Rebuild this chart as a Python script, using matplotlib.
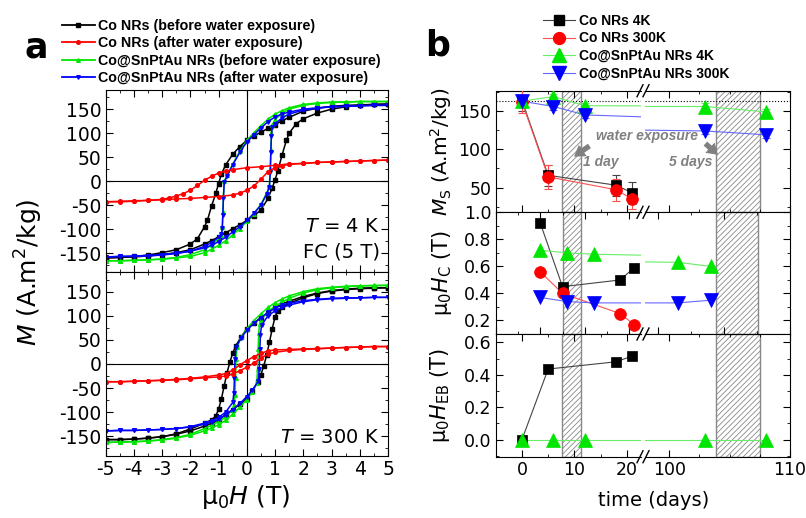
import matplotlib
matplotlib.use("Agg")
import matplotlib.pyplot as plt
import numpy as np
from matplotlib.lines import Line2D
from matplotlib.patches import FancyArrowPatch
from matplotlib.ticker import MultipleLocator

# ---- panel a : hysteresis loops, (H in T, M in A.m2/kg) ----
# 4 K, field cooled
co_before_4k_down = [(5, 160), (4.5, 160), (4, 159), (3.5, 158), (3, 156), (2.5, 152), (2, 146),
                     (1.5, 133), (1.25, 126), (1, 118), (0.75, 110), (0.5, 102), (0.25, 94), (0, 85),
                     (-0.25, 72), (-0.5, 56), (-0.75, 34), (-0.9, 15), (-1, -5), (-1.1, -25),
                     (-1.25, -52), (-1.4, -82), (-1.5, -95), (-1.75, -120), (-2, -131), (-2.5, -143),
                     (-3, -149), (-3.5, -154), (-4, -157), (-4.5, -159), (-5, -160)]
co_before_4k_up = [(-5, -160), (-4.5, -159), (-4, -158), (-3.5, -156), (-3, -153), (-2.5, -149),
                   (-2, -143), (-1.5, -131), (-1.25, -124), (-1, -116), (-0.75, -108), (-0.5, -99),
                   (-0.25, -91), (0, -82), (0.25, -72), (0.5, -60), (0.75, -36), (0.9, -14), (1, 3),
                   (1.1, 22), (1.25, 55), (1.4, 85), (1.5, 100), (1.75, 120), (2, 130), (2.5, 142),
                   (3, 150), (3.5, 155), (4, 158), (4.5, 160), (5, 161)]
co_after_4k_down = [(5, 44), (4.5, 43), (4, 42), (3.5, 41), (3, 40), (2.5, 39), (2, 37), (1.5, 36),
                    (1, 33), (0.5, 30), (0, 28), (-0.5, 24), (-0.75, 21), (-1, 17), (-1.25, 10),
                    (-1.5, 2), (-1.75, -9), (-2, -19), (-2.25, -26), (-2.5, -31), (-2.75, -35),
                    (-3, -38), (-3.5, -40), (-4, -42), (-4.5, -43), (-5, -43)]
co_after_4k_up = [(-5, -43), (-4.5, -42), (-4, -41), (-3.5, -40), (-3, -39), (-2.5, -37), (-2, -36),
                  (-1.5, -34), (-1, -32), (-0.5, -29), (-0.25, -25), (0, -19), (0.25, -10), (0.5, 4),
                  (0.75, 20), (1, 28), (1.25, 32), (1.5, 35), (2, 37), (2.5, 39), (3, 40), (3.5, 41),
                  (4, 42), (4.5, 43), (5, 44)]
cs_before_4k_down = [(5, 166), (4.5, 166), (4, 166), (3.5, 165), (3, 165), (2.5, 163), (2, 160),
                     (1.5, 153), (1.25, 147), (1, 140), (0.75, 129), (0.5, 116), (0.25, 101), (0, 85),
                     (-0.25, 62), (-0.5, 36), (-0.7, 12), (-0.8, 0), (-0.83, -30), (-0.85, -65),
                     (-0.87, -95), (-0.9, -112), (-1, -120), (-1.25, -133), (-1.5, -143), (-2, -153),
                     (-2.5, -159), (-3, -162), (-3.5, -164), (-4, -165), (-4.5, -166), (-5, -166)]
cs_before_4k_up = [(-5, -166), (-4.5, -166), (-4, -165), (-3.5, -164), (-3, -163), (-2.5, -160),
                   (-2, -157), (-1.5, -149), (-1.25, -142), (-1, -134), (-0.75, -124), (-0.5, -112),
                   (-0.25, -99), (0, -84), (0.25, -68), (0.5, -48), (0.7, -25), (0.8, -10), (0.83, 25),
                   (0.85, 65), (0.87, 100), (0.9, 118), (1, 128), (1.25, 142), (1.5, 150), (2, 158),
                   (2.5, 162), (3, 164), (3.5, 165), (4, 166), (4.5, 166), (5, 166)]
cs_after_4k_down = [(5, 158), (4.5, 158), (4, 157), (3.5, 156), (3, 155), (2.5, 153), (2, 150),
                    (1.5, 144), (1.25, 140), (1, 134), (0.75, 124), (0.5, 111), (0.25, 97), (0, 82),
                    (-0.25, 60), (-0.5, 34), (-0.7, 10), (-0.8, -2), (-0.83, -35), (-0.85, -70),
                    (-0.87, -98), (-0.9, -110), (-1, -117), (-1.25, -128), (-1.5, -136), (-2, -146),
                    (-2.5, -151), (-3, -154), (-3.5, -156), (-4, -157), (-4.5, -157), (-5, -158)]
cs_after_4k_up = [(-5, -158), (-4.5, -157), (-4, -156), (-3.5, -155), (-3, -153), (-2.5, -150),
                  (-2, -146), (-1.5, -139), (-1.25, -134), (-1, -126), (-0.75, -117), (-0.5, -106),
                  (-0.25, -95), (0, -82), (0.25, -67), (0.5, -50), (0.7, -27), (0.8, -12), (0.83, 20),
                  (0.85, 60), (0.87, 95), (0.9, 112), (1, 120), (1.25, 132), (1.5, 140), (2, 148),
                  (2.5, 152), (3, 155), (3.5, 156), (4, 157), (4.5, 158), (5, 158)]

# 300 K
co_before_300k_down = [(5, 158), (4.5, 158), (4, 157), (3.5, 155), (3, 152), (2.5, 147), (2, 140),
                       (1.5, 130), (1.25, 124), (1, 117), (0.75, 106), (0.5, 96), (0.25, 85), (0, 73),
                       (-0.2, 56), (-0.4, 37), (-0.5, 22), (-0.6, 4), (-0.7, -18), (-0.8, -45),
                       (-0.9, -72), (-1, -94), (-1.1, -108), (-1.25, -116), (-1.5, -123), (-2, -135),
                       (-2.5, -145), (-3, -151), (-3.5, -154), (-4, -156), (-4.5, -157), (-5, -157)]
co_before_300k_up = [(-5, -157), (-4.5, -157), (-4, -156), (-3.5, -154), (-3, -151), (-2.5, -146),
                     (-2, -139), (-1.5, -129), (-1.25, -123), (-1, -116), (-0.75, -105), (-0.5, -95),
                     (-0.25, -84), (0, -72), (0.2, -56), (0.4, -37), (0.5, -22), (0.6, -4), (0.7, 18),
                     (0.8, 45), (0.9, 73), (1, 98), (1.1, 110), (1.25, 118), (1.5, 126), (2, 137),
                     (2.5, 146), (3, 151), (3.5, 154), (4, 156), (4.5, 157), (5, 158)]
co_after_300k_down = [(5, 36), (4.5, 36), (4, 35), (3.5, 34), (3, 33), (2.5, 32), (2, 31), (1.5, 30),
                      (1, 29), (0.75, 27), (0.5, 22), (0.25, 15), (0, 7), (-0.25, -2), (-0.5, -13),
                      (-0.75, -20), (-1, -23), (-1.5, -27), (-2, -30), (-2.5, -32), (-3, -34),
                      (-3.5, -35), (-4, -36), (-4.5, -37), (-5, -37)]
co_after_300k_up = [(-5, -37), (-4.5, -37), (-4, -36), (-3.5, -35), (-3, -34), (-2.5, -33), (-2, -31),
                    (-1.5, -29), (-1, -27), (-0.75, -25), (-0.5, -21), (-0.25, -14), (0, -7), (0.25, 2),
                    (0.5, 12), (0.75, 20), (1, 24), (1.5, 28), (2, 30), (2.5, 31), (3, 33), (3.5, 34),
                    (4, 35), (4.5, 36), (5, 36)]
cs_before_300k_down = [(5, 163), (4.5, 163), (4, 162), (3.5, 161), (3, 159), (2.5, 156), (2, 150),
                       (1.5, 141), (1.25, 135), (1, 127), (0.75, 117), (0.5, 104), (0.25, 90), (0, 73),
                       (-0.2, 55), (-0.35, 35), (-0.38, 10), (-0.4, -30), (-0.42, -65), (-0.45, -85),
                       (-0.5, -95), (-0.75, -110), (-1, -120), (-1.25, -127), (-1.5, -134), (-2, -146),
                       (-2.5, -153), (-3, -157), (-3.5, -160), (-4, -162), (-4.5, -162), (-5, -163)]
cs_before_300k_up = [(-5, -163), (-4.5, -162), (-4, -161), (-3.5, -160), (-3, -158), (-2.5, -154),
                     (-2, -148), (-1.5, -139), (-1.25, -133), (-1, -126), (-0.75, -117), (-0.5, -104),
                     (-0.25, -90), (0, -74), (0.2, -58), (0.35, -40), (0.38, -10), (0.4, 30),
                     (0.42, 65), (0.45, 82), (0.5, 92), (0.75, 108), (1, 120), (1.25, 128), (1.5, 136),
                     (2, 147), (2.5, 154), (3, 158), (3.5, 160), (4, 162), (4.5, 162), (5, 163)]
cs_after_300k_down = [(5, 138), (4.5, 138), (4, 137), (3.5, 137), (3, 136), (2.5, 134), (2, 131),
                      (1.5, 126), (1.25, 122), (1, 116), (0.75, 107), (0.5, 96), (0.25, 84), (0, 70),
                      (-0.2, 54), (-0.38, 35), (-0.42, 10), (-0.44, -30), (-0.46, -60), (-0.5, -80),
                      (-0.75, -100), (-1, -111), (-1.25, -118), (-1.5, -123), (-2, -130), (-2.5, -134),
                      (-3, -136), (-3.5, -137), (-4, -138), (-4.5, -138), (-5, -139)]
cs_after_300k_up = [(-5, -139), (-4.5, -138), (-4, -138), (-3.5, -137), (-3, -136), (-2.5, -134),
                    (-2, -131), (-1.5, -125), (-1.25, -121), (-1, -115), (-0.75, -106), (-0.5, -95),
                    (-0.25, -82), (0, -68), (0.2, -54), (0.4, -36), (0.44, -10), (0.46, 30), (0.48, 60),
                    (0.52, 80), (0.75, 100), (1, 110), (1.25, 117), (1.5, 122), (2, 129), (2.5, 133),
                    (3, 135), (3.5, 136), (4, 137), (4.5, 138), (5, 138)]

loop_labels = ["Co NRs (before water exposure)", "Co NRs (after water exposure)",
               "Co@SnPtAu NRs (before water exposure)", "Co@SnPtAu NRs (after water exposure)"]

# ---- panel b : evolution with time (days) ----
ms_days_co = [0, 5, 18, 21]
ms_co_4k = [164, 66, 53, 43]
ms_co_4k_err = [14, 14, 14, 14]
ms_co_300k = [162, 64, 47, 35]
ms_co_300k_err = [15, 16, 14, 13]
ms_days_cs = [0, 6, 12, 103, 108]
ms_cs_4k = [163, 169, 157, 156, 149]
ms_cs_4k_err = [4, 4, 4, 4, 4]
ms_cs_300k = [163, 156, 145, 124, 119]
ms_cs_300k_err = [4, 4, 4, 4, 4]
ms_ref = 163

hc_days_co = [0, 5, 18, 21]
hc_co_4k = [0.92, 0.45, 0.50, 0.59]
hc_co_300k = [0.56, 0.40, 0.25, 0.17]
hc_days_cs = [0, 6, 12, 103, 108]
hc_cs_4k = [0.72, 0.70, 0.69, 0.63, 0.60]
hc_cs_300k = [0.37, 0.34, 0.33, 0.33, 0.35]

eb_days_co = [0, 5, 18, 21]
eb_co_4k = [0.0, 0.435, 0.48, 0.515]
eb_days_cs = [0, 6, 12, 103, 108]
eb_cs_4k = [0.0, 0.0, 0.0, 0.0, 0.0]

series_labels = ["Co NRs 4K", "Co NRs 300K", "Co@SnPtAu NRs 4K", "Co@SnPtAu NRs 300K"]

plt.rcParams["font.family"] = "DejaVu Sans"
plt.rcParams["axes.unicode_minus"] = False
plt.rcParams["mathtext.fontset"] = "dejavusans"
plt.rcParams["mathtext.default"] = "regular"
plt.rcParams["hatch.linewidth"] = 0.6

W, H = 806, 518
fig = plt.figure(figsize=(8.06, 5.18), dpi=100)


def rect(x0, y0, x1, y1):
    return [x0 / W, 1 - y1 / H, (x1 - x0) / W, (y1 - y0) / H]


def fx(x):
    return x / W


def fy(y):
    return 1 - y / H


LOOP_STYLE = [("black", "s"), ("#ff0000", "o"), ("#00e600", "^"), ("#0000ff", "v")]

# ---------------- panel a ----------------
ax_4k = fig.add_axes(rect(105.7, 90, 388, 272.3))
ax_300k = fig.add_axes(rect(105.7, 272.3, 388, 455.5))
loops = {
    ax_4k: [(co_before_4k_down, co_before_4k_up), (co_after_4k_down, co_after_4k_up),
            (cs_before_4k_down, cs_before_4k_up), (cs_after_4k_down, cs_after_4k_up)],
    ax_300k: [(co_before_300k_down, co_before_300k_up), (co_after_300k_down, co_after_300k_up),
              (cs_before_300k_down, cs_before_300k_up), (cs_after_300k_down, cs_after_300k_up)],
}
for ax, curves in loops.items():
    ax.axhline(0, color="black", lw=0.8, zorder=1)
    ax.axvline(0, color="black", lw=0.8, zorder=1)
    for idx in [0, 2, 3, 1]:
        color, marker = LOOP_STYLE[idx]
        for branch in curves[idx]:
            h, m = np.array(branch, dtype=float).T
            ax.plot(h, m, color=color, marker=marker, ms=2.6, mec=color, lw=1.1, zorder=2)
    ax.set_xlim(-5, 5)
    ax.set_ylim(-190, 190)
    ax.xaxis.set_major_locator(MultipleLocator(1))
    ax.xaxis.set_minor_locator(MultipleLocator(0.5))
    ax.yaxis.set_major_locator(MultipleLocator(50))
    ax.yaxis.set_minor_locator(MultipleLocator(25))
    ax.tick_params(which="both", direction="in", top=True, right=True, labelsize=13.5, pad=3)
    ax.tick_params(which="major", length=5)
    ax.tick_params(which="minor", length=2.5)
ax_4k.tick_params(labelbottom=False)

ax_4k.text(0.97, 0.25, "$\\mathit{T}$ = 4 K", transform=ax_4k.transAxes, ha="right", va="center", fontsize=14)
ax_4k.text(0.97, 0.11, "FC (5 T)", transform=ax_4k.transAxes, ha="right", va="center", fontsize=14)
ax_300k.text(0.97, 0.10, "$\\mathit{T}$ = 300 K", transform=ax_300k.transAxes, ha="right", va="center", fontsize=14)

fig.text(fx(29), fy(272), "$\\mathit{M}$ (A.m$^2$/kg)", rotation=90, ha="center", va="center", fontsize=18)
fig.text(fx(246), fy(497), "μ$_0$$\\mathit{H}$ (T)", ha="center", va="center", fontsize=18)
fig.text(fx(36), fy(48), "a", ha="center", va="center", fontsize=25, fontweight="bold")

loop_handles = [Line2D([], [], color=c, marker=mk, ms=2.6, mec=c, lw=1.3) for c, mk in LOOP_STYLE]
fig.legend(loop_handles, loop_labels, loc="upper left", bbox_to_anchor=(fx(61.7), fy(19)),
           frameon=False, borderpad=0, borderaxespad=0, handlelength=2.33, handletextpad=0.2,
           labelspacing=0.24, numpoints=1,
           prop={"family": "Liberation Sans", "weight": "bold", "size": 10.3})

# ---------------- panel b ----------------
rows_y = [(90.7, 212.3), (212.3, 334), (334, 456.7)]
# x ranges of the broken axis (left part, right part); the middle row was drawn on its own scale
xlims = [((-5, 22.7), (98, 110)), ((-10, 22.6), (98, 120)), ((-5, 22.7), (98, 110))]
shades = [((7.7, 11.3), (103.9, 107.5)), ((5.1, 9.2), (108.7, 115.1)), ((7.7, 11.3), (103.9, 107.5))]

POINT_STYLE = [("black", "#444444", "s", 7.5), ("#ff0000", "#ff5050", "o", 8.5),
               ("#00e600", "#66ee66", "^", 9.5), ("#0000ff", "#6666ff", "v", 9.5)]

row_data = [
    [(ms_days_co, ms_co_4k, ms_co_4k_err), (ms_days_co, ms_co_300k, ms_co_300k_err),
     (ms_days_cs, ms_cs_4k, ms_cs_4k_err), (ms_days_cs, ms_cs_300k, ms_cs_300k_err)],
    [(hc_days_co, hc_co_4k, None), (hc_days_co, hc_co_300k, None),
     (hc_days_cs, hc_cs_4k, None), (hc_days_cs, hc_cs_300k, None)],
    [(eb_days_co, eb_co_4k, None), None, (eb_days_cs, eb_cs_4k, None), None],
]
ylims = [(17.6, 176.7), (0.1, 1.0), (-0.105, 0.651)]
ymajor = [50, 0.2, 0.2]
yminor = [25, 0.1, 0.1]
ylabels = ["$\\mathit{M}_\\mathrm{S}$ (A.m$^2$/kg)", "μ$_0$$\\mathit{H}_\\mathrm{C}$ (T)",
           "μ$_0$$\\mathit{H}_\\mathrm{EB}$ (T)"]
ylabel_x = [-0.285, -0.29, -0.30]

for r, (y0, y1) in enumerate(rows_y):
    axL = fig.add_axes(rect(495.7, y0, 641, y1))
    axR = fig.add_axes(rect(645, y0, 790, y1))
    for part, ax in enumerate((axL, axR)):
        for k, entry in enumerate(row_data[r]):
            if entry is None:
                continue
            days, vals, err = entry
            mcol, lcol, mk, ms = POINT_STYLE[k]
            ax.plot(days, vals, color=lcol, lw=0.8, zorder=3)
            if err is not None:
                ax.errorbar(days, vals, yerr=err, fmt="none", ecolor=lcol, elinewidth=0.8,
                            capsize=3, capthick=0.8, zorder=3)
            ax.plot(days, vals, ls="none", marker=mk, ms=ms, mfc=mcol, mec=mcol, mew=0.5, zorder=4)
        lo, hi = shades[r][part]
        ax.axvspan(lo, hi, facecolor="white", edgecolor="#888888", hatch="//////", lw=1.0, zorder=1)
        if r == 0:
            ax.axhline(ms_ref, color="black", ls=":", lw=0.8, zorder=2)
        ax.set_xlim(*xlims[r][part])
        ax.set_ylim(*ylims[r])
        ax.yaxis.set_major_locator(MultipleLocator(ymajor[r]))
        ax.yaxis.set_minor_locator(MultipleLocator(yminor[r]))
        ax.tick_params(which="both", direction="in", top=True, bottom=True, labelsize=12.5, pad=3)
        ax.tick_params(which="major", length=5)
        ax.tick_params(which="minor", length=2.5)
        if r < 2:
            ax.tick_params(labelbottom=False)
    axL.spines["right"].set_visible(False)
    axR.spines["left"].set_visible(False)
    axL.tick_params(which="both", right=False, left=True)
    axR.tick_params(which="both", left=False, right=True, labelleft=False)
    axL.xaxis.set_major_locator(MultipleLocator(10))
    axL.xaxis.set_minor_locator(MultipleLocator(5))
    axR.xaxis.set_major_locator(MultipleLocator(10))
    axR.xaxis.set_minor_locator(MultipleLocator(5 if r == 1 else 2.5))
    if r == 1:
        axL.set_yticks([0.2, 0.4, 0.6, 0.8, 1.0])
    axL.set_ylabel(ylabels[r], fontsize=14.5 if r == 0 else 15)
    axL.yaxis.set_label_coords(ylabel_x[r], 0.5)
    if r == 2:
        axR.set_xticks([100, 110])
        axL.set_xticks([0, 10, 20])

# break marks on the time axis
for yb in (90.7, 212.3, 334, 456.7):
    for xb in (640, 646):
        fig.add_artist(Line2D([fx(xb - 3), fx(xb + 3)], [fy(yb + 6), fy(yb - 6)],
                              transform=fig.transFigure, color="black", lw=1.0))

fig.text(fx(654), fy(500), "time (days)", ha="center", va="center", fontsize=14)
fig.text(fx(438), fy(46), "b", ha="center", va="center", fontsize=25, fontweight="bold")

note = {"family": "Liberation Sans", "weight": "bold", "style": "italic", "size": 10}
fig.text(fx(647), fy(136), "water exposure", ha="center", va="center", color="#808080", fontdict=note)
fig.text(fx(601), fy(162), "1 day", ha="center", va="center", color="#808080", fontdict=note)
fig.text(fx(691), fy(162), "5 days", ha="center", va="center", color="#808080", fontdict=note)
for (xa, ya), (xb, yb) in [((591.7, 144.3), (571.7, 158.3)), ((703.3, 141.7), (720, 156.7))]:
    fig.add_artist(FancyArrowPatch((fx(xa), fy(ya)), (fx(xb), fy(yb)), transform=fig.transFigure,
                                   arrowstyle="simple,head_length=0.7,head_width=0.9,tail_width=0.35",
                                   mutation_scale=11, color="#808080", lw=0))

pt_handles = [Line2D([], [], color=lc, lw=0.8, marker=mk, ms=ms, mfc=mc, mec=mc)
              for mc, lc, mk, ms in POINT_STYLE]
fig.legend(pt_handles, series_labels, loc="upper left", bbox_to_anchor=(fx(543), fy(14)),
           frameon=False, borderpad=0, borderaxespad=0, handlelength=2.3, handletextpad=0.3,
           labelspacing=0.25, numpoints=1,
           prop={"family": "Liberation Sans", "weight": "bold", "size": 10})

fig.savefig("out.png", dpi=100)
